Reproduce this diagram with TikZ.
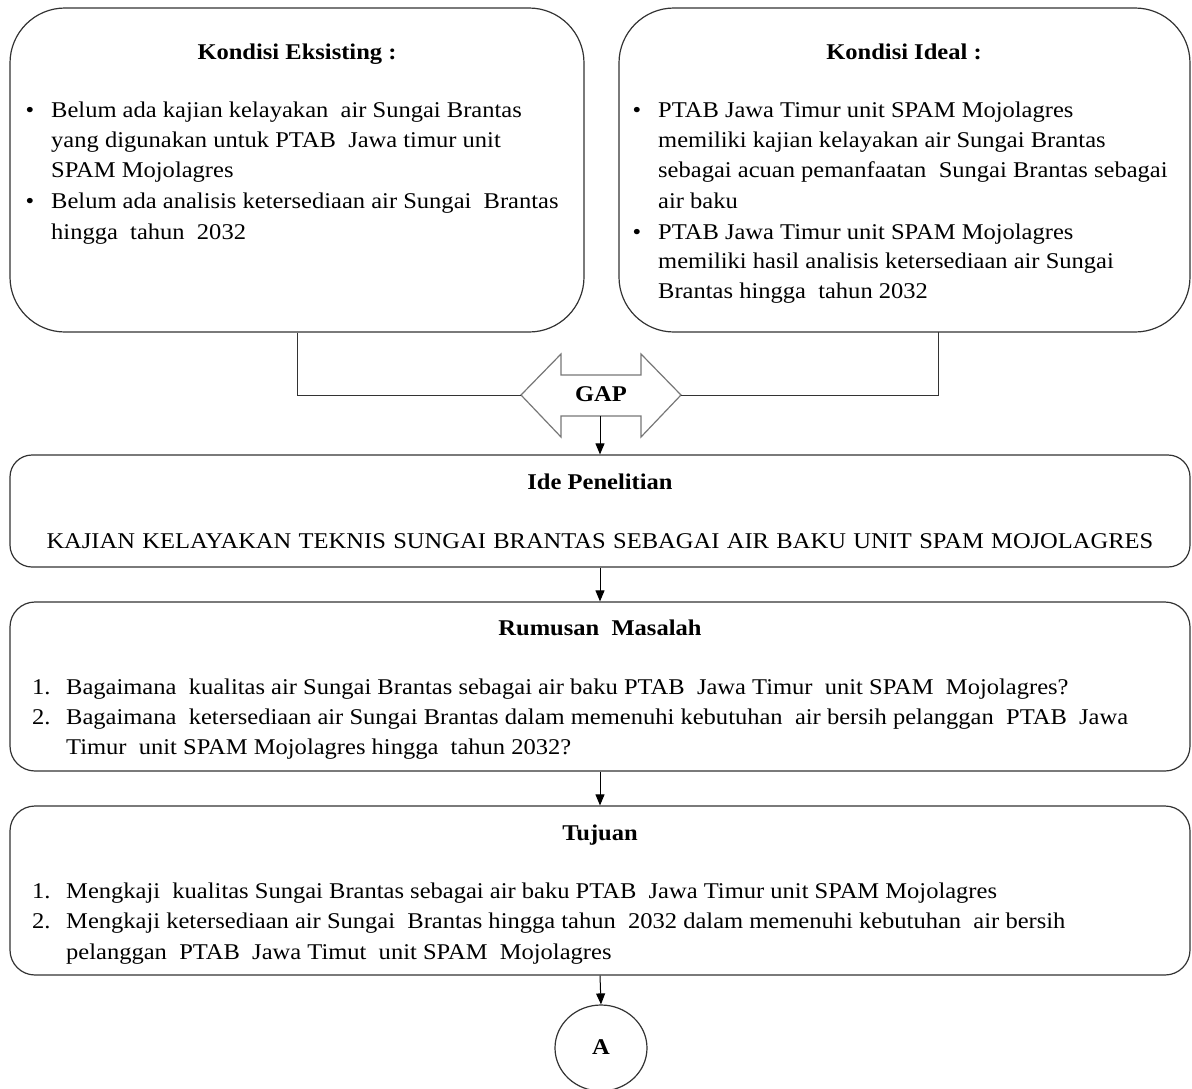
\documentclass[tikz,border=0pt]{standalone}
\usepackage{fontspec}
\setmainfont{Liberation Serif}[FakeStretch=1.09]
\usetikzlibrary{arrows.meta,shapes.geometric}
\definecolor{boxc}{HTML}{333333}
\definecolor{gapc}{HTML}{777777}
\newcommand{\fs}{\fontsize{22.5pt}{30pt}\selectfont}
\begin{document}
\begin{tikzpicture}[x=1pt,y=-1pt,
  box/.style={draw=boxc, line width=1.2pt, inner sep=0pt},
  txt/.style={anchor=mid west, inner sep=0pt, font=\fs, yshift=-4pt},
  ttl/.style={anchor=mid, inner sep=0pt, font=\fs\bfseries, yshift=-4pt},
  bul/.style={anchor=mid, inner sep=0pt, font=\fs, yshift=-4pt},
  conn/.style={draw=boxc, line width=1pt},
  arr/.style={draw=black, line width=1pt, -{Triangle[length=11pt,width=9pt]}}]
\useasboundingbox (0,0) rectangle (1192,1088);

% boxes
\node[box, rounded corners=55pt, minimum width=574pt, minimum height=324pt] (eks) at (297,170) {};
\node[box, rounded corners=55pt, minimum width=571pt, minimum height=324pt] (ideal) at (904.5,170) {};
\node[box, rounded corners=22pt, minimum width=1180pt, minimum height=112pt] (ide) at (600,511) {};
\node[box, rounded corners=25pt, minimum width=1180pt, minimum height=169pt] (rum) at (600,686.5) {};
\node[box, rounded corners=25pt, minimum width=1180pt, minimum height=169pt] (tuj) at (600,890.5) {};
\node[draw=boxc, line width=1.2pt, ellipse, minimum width=92pt, minimum height=86pt, inner sep=0pt] (A) at (601,1048) {};
\node[ttl] (Atxt) at (A.center) {A};

% GAP double arrow
\draw[draw=gapc, line width=1.2pt, fill=white] (521,395) -- (561,354) -- (561,375) -- (641,375) -- (641,354) -- (681,395) -- (641,437) -- (641,416) -- (561,416) -- (561,437) -- cycle;
\node[ttl] (gap) at (601,395) {GAP};
\coordinate (gapL) at (521,395);
\coordinate (gapR) at (681,395);
\coordinate (gapB) at (600,416);
\coordinate (idealB) at (938,332);

% connectors
\draw[conn] (eks.south) -- (eks.south |- gapL) -- (gapL);
\draw[conn] (idealB) -- (idealB |- gapR) -- (gapR);
\draw[arr] (gapB) -- (ide.north);
\draw[arr] (ide.south) -- (rum.north);
\draw[arr] (rum.south) -- (tuj.north);
\draw[arr] (tuj.south) -- (A.north);

% Kondisi Eksisting
\node[ttl] (t1) at (297,53) {Kondisi Eksisting :};
\node[bul] (b11) at (30,111) {•};
\node[txt] (l11) at (51,111) {Belum ada kajian kelayakan\ \ air Sungai Brantas};
\node[txt] (l12) at (51,141) {yang digunakan untuk PTAB\ \ Jawa timur unit};
\node[txt] (l13) at (51,171) {SPAM Mojolagres};
\node[bul] (b12) at (30,202) {•};
\node[txt] (l14) at (51,202) {Belum ada analisis ketersediaan air Sungai\ \ Brantas};
\node[txt] (l15) at (51,233) {hingga\ \ tahun\ \ 2032};

% Kondisi Ideal
\node[ttl] (t2) at (904,53) {Kondisi Ideal :};
\node[bul] (b21) at (637,111) {•};
\node[txt] (l21) at (658,111) {PTAB Jawa Timur unit SPAM Mojolagres};
\node[txt] (l22) at (658,141) {memiliki kajian kelayakan air Sungai Brantas};
\node[txt] (l23) at (658,171) {sebagai acuan pemanfaatan\ \ Sungai Brantas sebagai};
\node[txt] (l24) at (658,202) {air baku};
\node[bul] (b22) at (637,233) {•};
\node[txt] (l25) at (658,233) {PTAB Jawa Timur unit SPAM Mojolagres};
\node[txt] (l26) at (658,262) {memiliki hasil analisis ketersediaan air Sungai};
\node[txt] (l27) at (658,292) {Brantas hingga\ \ tahun 2032};

% Ide Penelitian
\node[ttl] (t3) at (600,483) {Ide Penelitian};
\node[ttl, font=\fs] (l31) at (600,542) {\makebox[1107pt][s]{KAJIAN KELAYAKAN TEKNIS SUNGAI BRANTAS SEBAGAI AIR BAKU UNIT SPAM MOJOLAGRES}};

% Rumusan Masalah
\node[ttl] (t4) at (600,629) {Rumusan\ \ Masalah};
\node[txt] (n41) at (32,688) {1.};
\node[txt] (l41) at (66,688) {Bagaimana\ \ kualitas air Sungai Brantas sebagai air baku PTAB\ \ Jawa Timur\ \ unit SPAM\ \ Mojolagres?};
\node[txt] (n42) at (32,718) {2.};
\node[txt] (l42) at (66,718) {Bagaimana\ \ ketersediaan air Sungai Brantas dalam memenuhi kebutuhan\ \ air bersih pelanggan\ \ PTAB\ \ Jawa};
\node[txt] (l43) at (66,748) {Timur\ \ unit SPAM Mojolagres hingga\ \ tahun 2032?};

% Tujuan
\node[ttl] (t5) at (600,834) {Tujuan};
\node[txt] (n51) at (32,892) {1.};
\node[txt] (l51) at (66,892) {Mengkaji\ \ kualitas Sungai Brantas sebagai air baku PTAB\ \ Jawa Timur unit SPAM Mojolagres};
\node[txt] (n52) at (32,922) {2.};
\node[txt] (l52) at (66,922) {Mengkaji ketersediaan air Sungai\ \ Brantas hingga tahun\ \ 2032 dalam memenuhi kebutuhan\ \ air bersih};
\node[txt] (l53) at (66,953) {pelanggan\ \ PTAB\ \ Jawa Timut\ \ unit SPAM\ \ Mojolagres};
\end{tikzpicture}
\end{document}
